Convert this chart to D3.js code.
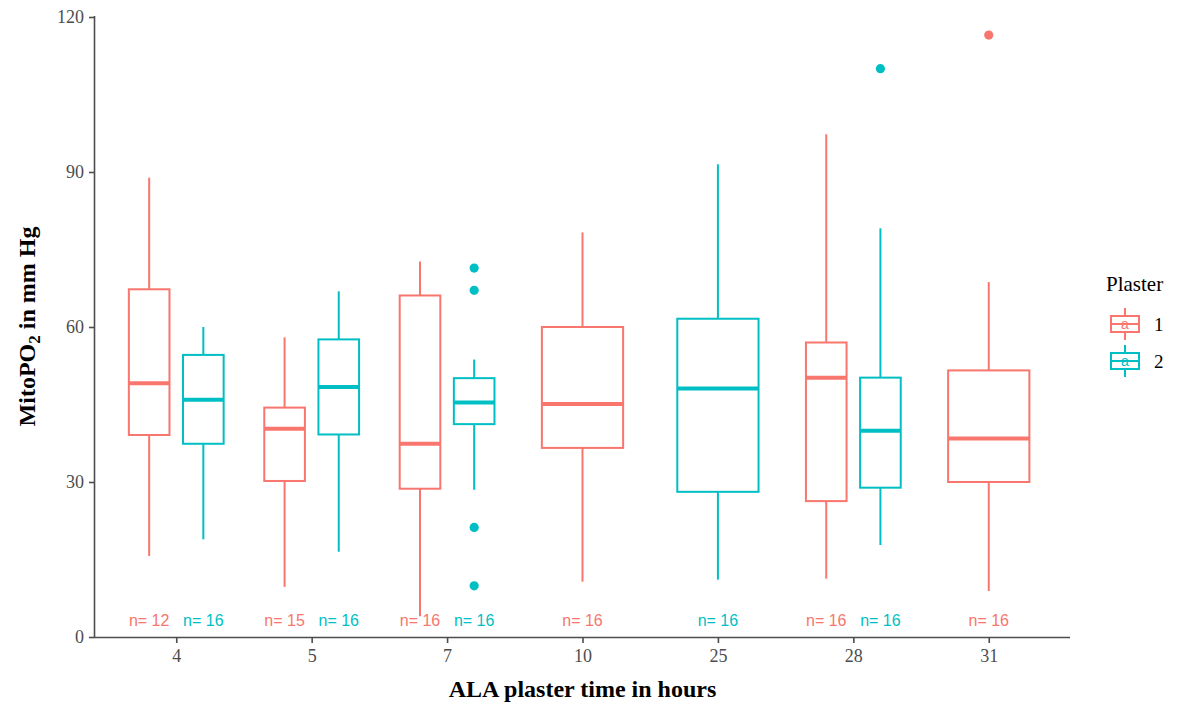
<!DOCTYPE html>
<html>
<head>
<meta charset="utf-8">
<script src="https://cdn.jsdelivr.net/npm/d3@7"></script>
<style>
  html, body { margin: 0; padding: 0; background: #ffffff; }
  svg { display: block; }
</style>
</head>
<body>
<svg id="chart" width="1185" height="702"></svg>
<script>
// ---- Data ----
const categories = ["4", "5", "7", "10", "25", "28", "31"];
const plasterLevels = ["1", "2"];
const yTicks = [0, 30, 60, 90, 120];

// Plaster 1
const p1Cats    = ["4", "5", "7", "10", "28", "31"];
const p1Low     = [15.7, 9.7, 4.0, 10.7, 11.3, 8.9];
const p1Q1      = [39.1, 30.2, 28.7, 36.6, 26.3, 30.0];
const p1Median  = [49.1, 40.3, 37.4, 45.1, 50.2, 38.4];
const p1Q3      = [67.3, 44.4, 66.1, 60.0, 57.0, 51.6];
const p1High    = [88.9, 58.0, 72.7, 78.3, 97.3, 68.7];
const p1N       = [12, 15, 16, 16, 16, 16];
const p1Outliers = [[], [], [], [], [], [116.5]];

// Plaster 2
const p2Cats    = ["4", "5", "7", "25", "28"];
const p2Low     = [18.9, 16.5, 28.5, 11.1, 17.8];
const p2Q1      = [37.4, 39.2, 41.2, 28.1, 28.9];
const p2Median  = [45.9, 48.4, 45.4, 48.1, 39.9];
const p2Q3      = [54.6, 57.6, 50.1, 61.6, 50.2];
const p2High    = [60.0, 66.9, 53.7, 91.5, 79.1];
const p2N       = [16, 16, 16, 16, 16];
const p2Outliers = [[], [], [71.4, 67.1, 21.2, 9.9], [], [110.0]];

const nLabelY = 3.3;

// ---- Build records ----
function build(level, cats, low, q1, med, q3, high, n, outs) {
  return cats.map((c, i) => ({ level, cat: c, low: low[i], q1: q1[i], med: med[i], q3: q3[i], high: high[i], n: n[i], outs: outs[i] }));
}
const records = build("1", p1Cats, p1Low, p1Q1, p1Median, p1Q3, p1High, p1N, p1Outliers)
  .concat(build("2", p2Cats, p2Low, p2Q1, p2Median, p2Q3, p2High, p2N, p2Outliers));

const color = d3.scaleOrdinal().domain(plasterLevels).range(["#F8766D", "#00BFC4"]);

// ---- Layout ----
const plot = { left: 95, right: 1070, top: 16, bottom: 637 };
const svg = d3.select("#chart");

const x = d3.scalePoint().domain(categories).range([plot.left, plot.right]).padding(0.6);
const y = d3.scaleLinear().domain([0, 120]).range([plot.bottom, plot.top + 1]);
const step = x.step();

function groupInfo(d) {
  const count = records.filter(r => r.cat === d.cat).length;
  if (count === 1) return { cx: x(d.cat), w: 0.6 * step };
  const idx = plasterLevels.indexOf(d.level);
  return { cx: x(d.cat) + (idx === 0 ? -0.2 : 0.2) * step, w: 0.3 * step };
}

const g = svg.append("g");

// boxes
const boxes = g.selectAll("g.box").data(records).join("g").attr("class", "box");
boxes.each(function(d) {
  const sel = d3.select(this);
  const gi = groupInfo(d);
  const c = color(d.level);
  // whiskers
  sel.append("line").attr("x1", gi.cx).attr("x2", gi.cx).attr("y1", y(d.q3)).attr("y2", y(d.high))
    .attr("stroke", c).attr("stroke-width", 2);
  sel.append("line").attr("x1", gi.cx).attr("x2", gi.cx).attr("y1", y(d.q1)).attr("y2", y(d.low))
    .attr("stroke", c).attr("stroke-width", 2);
  // box
  sel.append("rect").attr("x", gi.cx - gi.w / 2).attr("width", gi.w)
    .attr("y", y(d.q3)).attr("height", y(d.q1) - y(d.q3))
    .attr("fill", "#ffffff").attr("stroke", c).attr("stroke-width", 2);
  // median
  sel.append("line").attr("x1", gi.cx - gi.w / 2).attr("x2", gi.cx + gi.w / 2)
    .attr("y1", y(d.med)).attr("y2", y(d.med)).attr("stroke", c).attr("stroke-width", 4);
  // outliers
  sel.selectAll("circle").data(d.outs).join("circle")
    .attr("cx", gi.cx).attr("cy", v => y(v)).attr("r", 4.6).attr("fill", c);
  // n labels
  sel.append("text").attr("x", gi.cx).attr("y", y(nLabelY)).attr("dy", "0.35em")
    .attr("text-anchor", "middle").attr("fill", c)
    .style("font-family", "'Liberation Sans', Arial, sans-serif").style("font-size", "16px")
    .text("n= " + d.n);
});

// ---- Axes ----
const axisColor = "#4d4d4d";
const yAxis = svg.append("g").attr("transform", `translate(${plot.left},0)`)
  .call(d3.axisLeft(y).tickValues(yTicks).tickSize(6).tickPadding(5));
const xAxis = svg.append("g").attr("transform", `translate(0,${plot.bottom})`)
  .call(d3.axisBottom(x).tickSize(6).tickPadding(6));
[yAxis, xAxis].forEach(a => {
  a.select(".domain").attr("stroke", axisColor).attr("stroke-width", 1.6);
  a.selectAll(".tick line").attr("stroke", axisColor).attr("stroke-width", 1.6);
  a.selectAll(".tick text").attr("fill", axisColor)
    .style("font-family", "'Liberation Serif', 'Times New Roman', serif").style("font-size", "18px");
});
xAxis.select(".domain").attr("d", `M${plot.left},0.5H${plot.right}`);
yAxis.select(".domain").attr("d", `M-0.5,${plot.top}V${plot.bottom}`);

// axis titles
svg.append("text").attr("x", (plot.left + plot.right) / 2).attr("y", 697)
  .attr("text-anchor", "middle").attr("fill", "#000")
  .style("font-family", "'Liberation Serif', 'Times New Roman', serif")
  .style("font-size", "24px").style("font-weight", "bold")
  .text("ALA plaster time in hours");

const yt = svg.append("text")
  .attr("transform", `translate(35,${(plot.top + plot.bottom) / 2}) rotate(-90)`)
  .attr("text-anchor", "middle").attr("fill", "#000")
  .style("font-family", "'Liberation Serif', 'Times New Roman', serif")
  .style("font-size", "24px").style("font-weight", "bold");
yt.append("tspan").text("MitoPO");
yt.append("tspan").attr("dy", 5).style("font-size", "17px").text("2");
yt.append("tspan").attr("dy", -5).text(" in mm Hg");

// ---- Legend ----
const lg = svg.append("g");
lg.append("text").attr("x", 1106).attr("y", 291)
  .style("font-family", "'Liberation Serif', 'Times New Roman', serif").style("font-size", "21px")
  .attr("fill", "#000").text("Plaster");
plasterLevels.forEach((lev, i) => {
  const cy = 324 + i * 37;
  const c = color(lev);
  const kx0 = 1111, kx1 = 1139, kc = (kx0 + kx1) / 2;
  lg.append("line").attr("x1", kc).attr("x2", kc).attr("y1", cy - 16).attr("y2", cy - 8).attr("stroke", c).attr("stroke-width", 2);
  lg.append("line").attr("x1", kc).attr("x2", kc).attr("y1", cy + 8).attr("y2", cy + 16).attr("stroke", c).attr("stroke-width", 2);
  lg.append("rect").attr("x", kx0).attr("y", cy - 8).attr("width", kx1 - kx0).attr("height", 16)
    .attr("fill", "#fff").attr("stroke", c).attr("stroke-width", 2);
  lg.append("line").attr("x1", kx0).attr("x2", kx1).attr("y1", cy).attr("y2", cy).attr("stroke", c).attr("stroke-width", 2);
  lg.append("text").attr("x", kc).attr("y", cy).attr("dy", "0.35em").attr("text-anchor", "middle")
    .attr("fill", c).style("font-family", "'Liberation Sans', Arial, sans-serif").style("font-size", "14px").text("a");
  lg.append("text").attr("x", 1154).attr("y", cy).attr("dy", "0.35em")
    .attr("fill", "#000").style("font-family", "'Liberation Serif', 'Times New Roman', serif").style("font-size", "19px").text(lev);
});
</script>
</body>
</html>
